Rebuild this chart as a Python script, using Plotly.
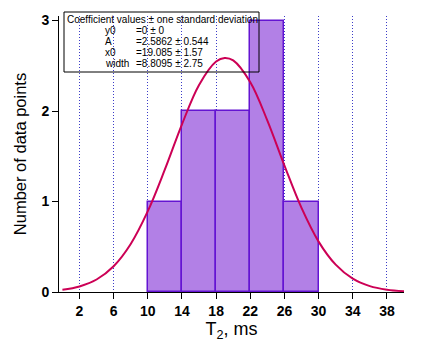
import plotly.graph_objects as go

# Histogram data (bin centres, counts)
bin_centers = [12, 16, 20, 24, 28]
bin_width = 4
counts = [1, 2, 2, 3, 1]

# Fitted Gaussian curve points
curve_x = [0, 2, 4, 6, 8, 10, 12, 14, 16, 18, 19, 20, 22, 24, 26, 28, 30, 32, 34, 36, 38, 40]
curve_y = [0.024, 0.060, 0.138, 0.285, 0.531, 0.893, 1.354, 1.853, 2.288, 2.547, 2.586, 2.559,
           2.318, 1.894, 1.397, 0.929, 0.557, 0.302, 0.147, 0.065, 0.026, 0.009]

x_ticks = [2, 6, 10, 14, 18, 22, 26, 30, 34, 38]
y_ticks = [0, 1, 2, 3]

coef_title = "Coefficient values ± one standard deviation"
coef_names = ["y0", "A", "x0", "width"]
coef_values = ["=0 ± 0", "=2.5862 ± 0.544", "=19.085 ± 1.57", "=8.8095 ± 2.75"]

fig = go.Figure()
fig.add_trace(go.Bar(
    x=bin_centers, y=counts, width=bin_width,
    marker=dict(color="rgb(178,128,230)", line=dict(color="rgb(100,20,210)", width=1.5)),
    showlegend=False,
))
fig.add_trace(go.Scatter(
    x=curve_x, y=curve_y, mode="lines",
    line=dict(color="rgb(204,0,85)", width=2, shape="spline"),
    showlegend=False,
))

font = "Liberation Sans, Arial, sans-serif"

fig.update_layout(
    width=425, height=348,
    margin=dict(l=59, r=21, t=16, b=56),
    plot_bgcolor="white", paper_bgcolor="white",
    bargap=0,
    xaxis=dict(
        range=[-0.4, 40], tickvals=x_ticks, ticks="outside", ticklen=6, tickcolor="black",
        showline=True, linecolor="black", linewidth=1,
        showgrid=True, gridcolor="rgb(60,60,200)", griddash="1px,2px", gridwidth=1,
        zeroline=False,
        tickfont=dict(family=font, size=14, color="black", weight="bold"),
        title=dict(text="T<sub>2</sub>, ms", font=dict(family=font, size=18, color="black"), standoff=4),
    ),
    yaxis=dict(
        range=[0, 3.05], tickvals=y_ticks, ticks="outside", ticklen=6, tickcolor="black",
        showline=True, linecolor="black", linewidth=1,
        showgrid=False, zeroline=False,
        tickfont=dict(family=font, size=14, color="black", weight="bold"),
        title=dict(text="Number of data points", font=dict(family=font, size=16.5, color="black"), standoff=10),
    ),
)

def py(y):
    return (292 - y) / 276

def px(x):
    return (x - 59) / 345

# Coefficient box
fig.add_shape(type="rect", xref="paper", yref="paper",
              x0=px(64), x1=px(259), y0=py(72), y1=py(12),
              line=dict(color="black", width=1), fillcolor="rgba(0,0,0,0)", layer="above")

fig.add_annotation(xref="paper", yref="paper", x=px(65), y=py(19.5), xanchor="left", yanchor="middle",
                   text=coef_title, showarrow=False, font=dict(family=font, size=10, color="black"))
for i, (n, v) in enumerate(zip(coef_names, coef_values)):
    yy = 30.5 + i * 11
    fig.add_annotation(xref="paper", yref="paper", x=px(103), y=py(yy), xanchor="left", yanchor="middle",
                       text=n, showarrow=False, font=dict(family=font, size=10, color="black"))
    fig.add_annotation(xref="paper", yref="paper", x=px(134), y=py(yy), xanchor="left", yanchor="middle",
                       text=v, showarrow=False, font=dict(family=font, size=10, color="black"))

fig.write_html("out.html")
